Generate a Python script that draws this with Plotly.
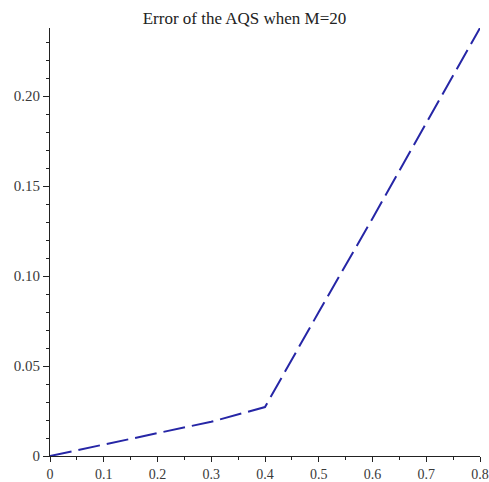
import plotly.graph_objects as go

x_vals = [0.0, 0.1, 0.2, 0.3, 0.4, 0.5, 0.6, 0.7, 0.8]
err_vals = [0.0, 0.0065, 0.0127, 0.019, 0.0272, 0.080, 0.132, 0.185, 0.2378]
x_ticks = [0, 0.1, 0.2, 0.3, 0.4, 0.5, 0.6, 0.7, 0.8]
x_tick_text = ["0", "0.1", "0.2", "0.3", "0.4", "0.5", "0.6", "0.7", "0.8"]
y_ticks = [0, 0.05, 0.10, 0.15, 0.20]
y_tick_text = ["0", "0.05", "0.10", "0.15", "0.20"]
title_text = "Error of the AQS when M=20"

fig = go.Figure()
fig.add_trace(go.Scatter(
    x=x_vals, y=err_vals, mode="lines",
    line=dict(color="#2626a6", width=2.0, dash="22px,7px"),
    hoverinfo="skip", showlegend=False, cliponaxis=False,
))

yfont = dict(family="Liberation Serif, Times New Roman, serif", size=15, color="#3a3a3a")
xfont = dict(family="Liberation Serif, Times New Roman, serif", size=14, color="#3a3a3a")

fig.update_layout(
    width=489, height=482,
    margin=dict(l=50, r=9, t=28, b=26, autoexpand=False),
    paper_bgcolor="white", plot_bgcolor="white",
    title=dict(text=title_text, x=0.5, xref="container", xanchor="center",
               y=0.962, yref="container", yanchor="middle",
               font=dict(family="Liberation Serif, Times New Roman, serif", size=17, color="#222222")),
    font=yfont,
    showlegend=False,
)
fig.update_xaxes(
    range=[0, 0.8], tickvals=x_ticks, ticktext=x_tick_text, automargin=False,
    showgrid=False, zeroline=False, showline=True, linecolor="#222222", linewidth=1.2,
    ticks="outside", ticklen=5, tickcolor="#222222", tickwidth=1,
    minor=dict(dtick=0.05, tick0=0, ticks="outside", ticklen=3, tickcolor="#222222", showgrid=False),
    tickfont=xfont,
)
fig.update_yaxes(
    range=[0, 0.2378], tickvals=y_ticks, ticktext=y_tick_text, automargin=False,
    showgrid=False, zeroline=False, showline=True, linecolor="#222222", linewidth=1.2,
    ticks="outside", ticklen=6, tickcolor="#222222", tickwidth=1,
    minor=dict(dtick=0.01, tick0=0, ticks="outside", ticklen=3, tickcolor="#222222", showgrid=False),
    tickfont=yfont,
)

fig.write_html("out.html", config={"displayModeBar": False},
               post_script="document.body.style.margin='0';document.body.style.overflow='hidden';")
